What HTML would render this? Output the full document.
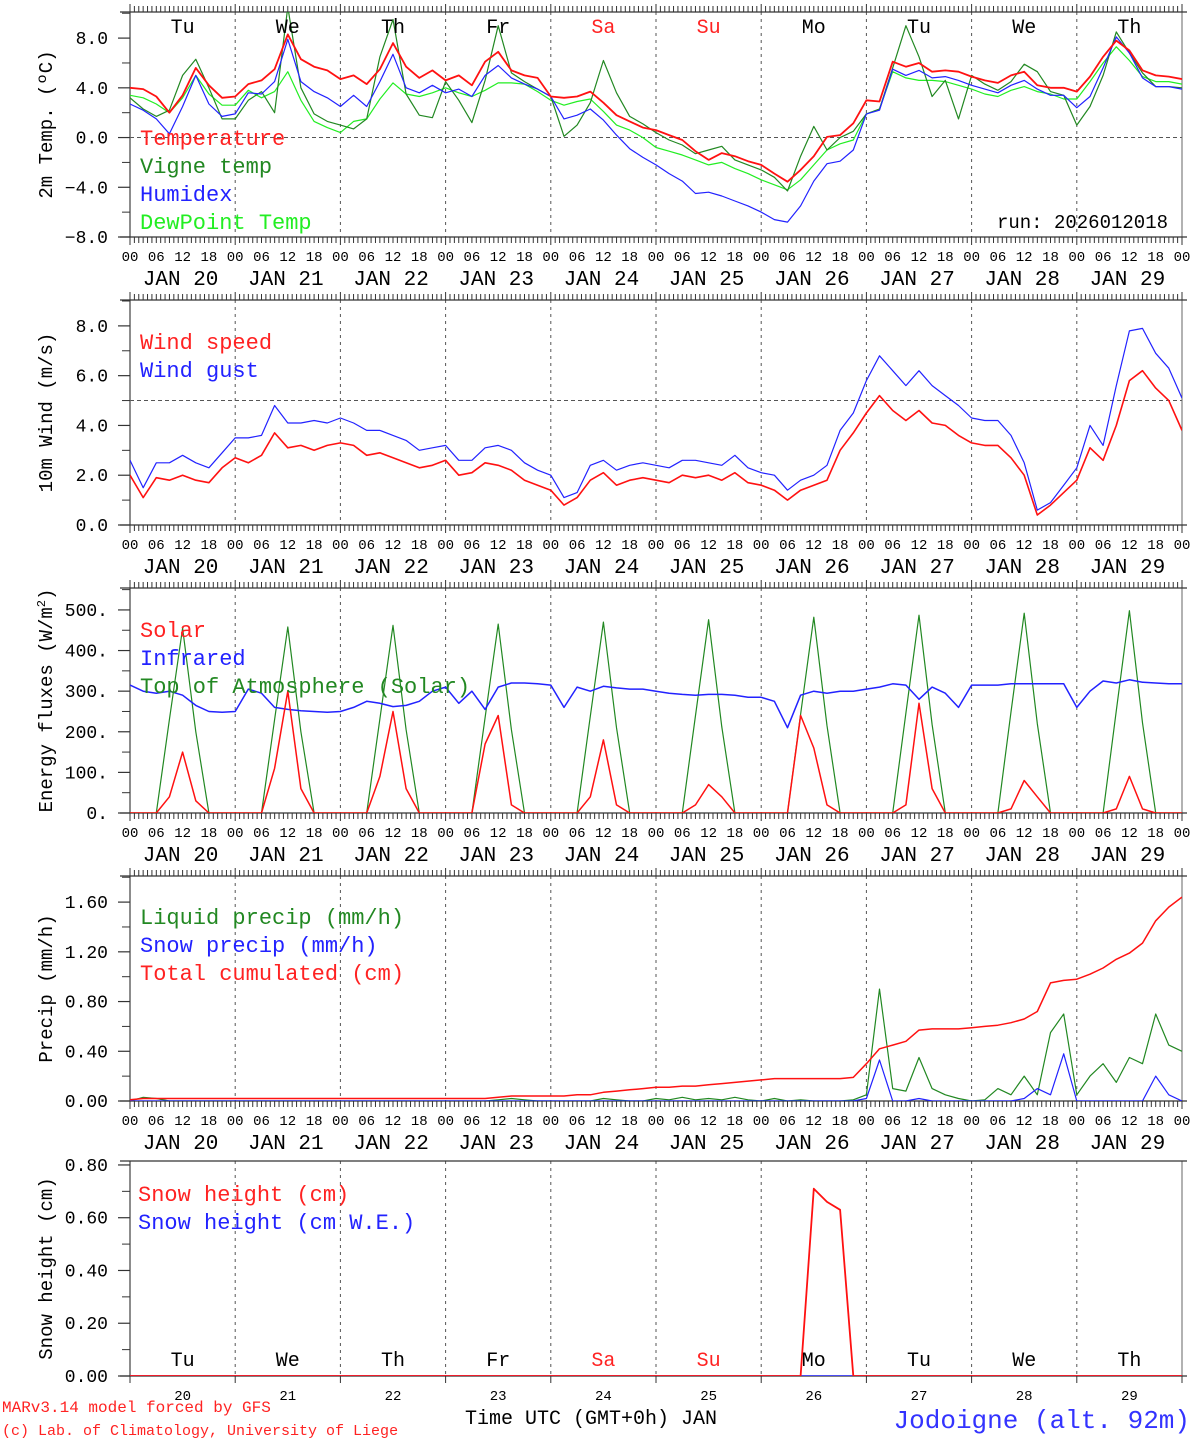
<!DOCTYPE html>
<html><head><meta charset="utf-8">
<style>
body{margin:0;background:#fff;}
svg{display:block;font-family:"Liberation Mono",monospace;}
</style></head>
<body>
<svg id="c" width="1194" height="1440" viewBox="0 0 1194 1440"></svg>
<script>
// ---- data (3-hourly from JAN 20 00 UTC, 81 points) ----
const dayNames = ["Tu","We","Th","Fr","Sa","Su","Mo","Tu","We","Th"];
const dayNums = ["20","21","22","23","24","25","26","27","28","29"];
const tempVals = [4.0,3.9,3.3,2.0,3.4,5.6,4.2,3.2, 3.3,4.3,4.6,5.5,8.3,6.3,5.7,5.4, 4.7,5.0,4.3,5.5,7.6,5.7,4.8,5.4, 4.6,5.0,4.2,6.1,6.9,5.4,5.0,4.8, 3.3,3.2,3.3,3.7,2.8,1.8,1.3,0.8, 0.6,0.2,-0.2,-1.1,-1.8,-1.25,-1.5,-1.9, -2.2,-2.9,-3.55,-2.6,-1.5,0.05,0.2,1.15, 3.0,2.9,6.1,5.7,6.0,5.3,5.4,5.3, 4.9,4.6,4.4,5.0,5.3,4.2,4.0,4.0, 3.7,4.9,6.5,7.8,7.0,5.4,5.0,4.9,4.7];
const vigneVals = [3.2,2.3,1.7,2.2,5.0,6.3,4.0,1.5, 1.5,3.0,3.7,2.0,10.5,4.0,1.9,1.3, 1.0,0.7,1.5,6.5,9.5,3.5,1.8,1.6, 4.5,3.0,1.2,4.6,9.0,5.2,4.5,3.9, 3.3,0.1,1.0,2.8,6.2,3.6,1.7,1.1, 0.4,-0.2,-0.6,-1.3,-1.0,-0.7,-1.8,-2.2, -2.6,-3.2,-4.3,-1.5,0.9,-1.0,0.0,0.5, 1.9,2.3,5.6,9.0,6.5,3.3,4.6,1.5, 5.0,4.3,3.8,4.5,5.9,5.3,3.7,3.4, 1.0,2.5,5.0,8.5,6.8,5.2,4.1,4.1,4.0];
const humidexVals = [2.7,2.2,1.5,0.3,2.5,5.0,2.7,1.7, 1.9,3.6,3.5,4.5,7.9,4.5,3.7,3.2, 2.5,3.4,2.5,4.5,6.7,4.0,3.6,4.2, 3.6,3.9,3.3,5.0,5.8,4.8,4.3,3.9, 3.3,1.5,1.8,2.3,1.4,0.2,-0.9,-1.6, -2.2,-2.9,-3.5,-4.5,-4.4,-4.7,-5.1,-5.5, -6.0,-6.6,-6.8,-5.5,-3.5,-2.1,-1.9,-1.0, 1.9,2.2,5.5,5.0,5.4,4.8,4.9,4.6, 4.2,3.9,3.6,4.2,4.6,3.9,3.4,3.4, 2.4,3.3,5.6,8.1,6.8,4.8,4.1,4.1,3.9];
const dewVals = [3.4,3.2,2.7,2.0,3.2,5.0,3.5,2.6, 2.6,3.8,3.2,3.7,5.3,3.0,1.3,0.8, 0.4,1.3,1.5,3.1,4.4,3.5,3.3,3.6, 4.0,3.6,3.3,3.8,4.4,4.4,4.3,3.7, 3.0,2.6,2.9,3.1,2.1,1.0,0.6,0.0, -0.8,-1.1,-1.4,-1.8,-2.2,-2.0,-2.5,-2.9, -3.4,-3.8,-4.2,-3.4,-2.2,-1.0,-0.5,-0.2, 1.9,2.3,5.3,4.8,4.6,4.6,4.5,4.2, 3.9,3.5,3.3,3.8,4.1,3.7,3.5,3.1, 3.1,4.5,6.0,7.3,6.2,4.9,4.5,4.5,4.3];
const windVals = [2.0,1.1,1.9,1.8,2.0,1.8,1.7,2.3, 2.7,2.5,2.8,3.7,3.1,3.2,3.0,3.2, 3.3,3.2,2.8,2.9,2.7,2.5,2.3,2.4, 2.6,2.0,2.1,2.5,2.4,2.2,1.8,1.6, 1.4,0.8,1.1,1.8,2.1,1.6,1.8,1.9, 1.8,1.7,2.0,1.9,2.0,1.8,2.1,1.7, 1.6,1.4,1.0,1.4,1.6,1.8,3.0,3.7, 4.5,5.2,4.6,4.2,4.6,4.1,4.0,3.6, 3.3,3.2,3.2,2.7,2.0,0.4,0.8,1.3, 1.8,3.1,2.6,4.0,5.8,6.2,5.5,5.0,3.8];
const gustVals = [2.6,1.5,2.5,2.5,2.8,2.5,2.3,2.9, 3.5,3.5,3.6,4.8,4.1,4.1,4.2,4.1, 4.3,4.1,3.8,3.8,3.6,3.4,3.0,3.1, 3.2,2.6,2.6,3.1,3.2,3.0,2.5,2.2, 2.0,1.1,1.3,2.4,2.6,2.2,2.4,2.5, 2.4,2.3,2.6,2.6,2.5,2.4,2.8,2.3, 2.1,2.0,1.4,1.8,2.0,2.4,3.8,4.5, 5.8,6.8,6.2,5.6,6.2,5.6,5.2,4.8, 4.3,4.2,4.2,3.6,2.5,0.6,0.9,1.6, 2.3,4.0,3.2,5.6,7.8,7.9,6.9,6.3,5.1];
const solarVals = [0,0,0,40,150,30,0,0, 0,0,0,110,300,60,0,0, 0,0,0,90,250,60,0,0, 0,0,0,170,240,20,0,0, 0,0,0,40,180,20,0,0, 0,0,0,20,70,40,0,0, 0,0,0,240,160,20,0,0, 0,0,0,20,270,60,0,0, 0,0,0,10,80,40,0,0, 0,0,0,10,90,10,0,0,0];
const irVals = [315,300,295,300,290,265,250,248, 250,305,295,260,255,252,250,248, 250,260,275,270,262,265,275,300, 310,270,300,255,310,320,320,318, 315,260,310,300,312,308,305,305, 300,295,292,290,292,292,290,285, 285,275,210,290,300,295,300,300, 305,310,318,315,280,310,295,260, 315,315,315,318,318,318,318,318, 260,300,325,320,328,322,320,318,318];
const toaVals = [0,0,0,230,455,200,0,0, 0,0,0,230,458,200,0,0, 0,0,0,232,462,205,0,0, 0,0,0,235,465,205,0,0, 0,0,0,238,470,210,0,0, 0,0,0,240,476,212,0,0, 0,0,0,243,482,215,0,0, 0,0,0,246,487,218,0,0, 0,0,0,249,492,220,0,0, 0,0,0,252,498,222,0,0,0];
const liquidVals = [0,0.03,0.02,0,0,0,0,0, 0,0,0,0,0,0,0,0, 0,0,0,0,0,0,0,0, 0,0,0,0,0.01,0.02,0.01,0, 0,0,0,0,0.02,0.01,0,0, 0.02,0.01,0.03,0.01,0.02,0.01,0.03,0.01, 0,0.02,0,0.01,0,0,0,0.01, 0.05,0.9,0.1,0.08,0.35,0.1,0.05,0.02, 0,0.01,0.1,0.05,0.2,0.05,0.55,0.7, 0.05,0.2,0.3,0.15,0.35,0.3,0.7,0.45,0.4];
const snowPrecipVals = [0,0,0,0,0,0,0,0, 0,0,0,0,0,0,0,0, 0,0,0,0,0,0,0,0, 0,0,0,0,0,0,0,0, 0,0,0,0,0,0,0,0, 0,0,0,0,0,0,0,0, 0,0,0,0,0,0,0,0, 0.02,0.33,0,0,0.02,0,0,0, 0,0,0,0,0.02,0.1,0.05,0.38, 0,0,0,0,0,0,0.2,0.05,0];
const totalVals = [0.01,0.02,0.02,0.02,0.02,0.02,0.02,0.02, 0.02,0.02,0.02,0.02,0.02,0.02,0.02,0.02, 0.02,0.02,0.02,0.02,0.02,0.02,0.02,0.02, 0.02,0.02,0.02,0.02,0.03,0.04,0.04,0.04, 0.04,0.04,0.05,0.05,0.07,0.08,0.09,0.10, 0.11,0.11,0.12,0.12,0.13,0.14,0.15,0.16, 0.17,0.18,0.18,0.18,0.18,0.18,0.18,0.19, 0.30,0.42,0.45,0.48,0.57,0.58,0.58,0.58, 0.59,0.60,0.61,0.63,0.66,0.72,0.95,0.97, 0.98,1.02,1.07,1.14,1.19,1.27,1.45,1.56,1.64];
const snowHVals = [0,0,0,0,0,0,0,0, 0,0,0,0,0,0,0,0, 0,0,0,0,0,0,0,0, 0,0,0,0,0,0,0,0, 0,0,0,0,0,0,0,0, 0,0,0,0,0,0,0,0, 0,0,0,0,0.71,0.66,0.63,0, 0,0,0,0,0,0,0,0, 0,0,0,0,0,0,0,0, 0,0,0,0,0,0,0,0,0];
const snowWEVals = [0,0,0,0,0,0,0,0, 0,0,0,0,0,0,0,0, 0,0,0,0,0,0,0,0, 0,0,0,0,0,0,0,0, 0,0,0,0,0,0,0,0, 0,0,0,0,0,0,0,0, 0,0,0,0,0,0,0,0, 0,0,0,0,0,0,0,0, 0,0,0,0,0,0,0,0, 0,0,0,0,0,0,0,0,0];
const tempTicks = [-8,-4,0,4,8];
const windTicks = [0,2,4,6,8];
const energyTicks = [0,100,200,300,400,500];
const precipTicks = [0,0.4,0.8,1.2,1.6];
const snowTicks = [0,0.2,0.4,0.6,0.8];
const hourLabels = ["00","06","12","18"];

const NS="http://www.w3.org/2000/svg";
const svg=document.getElementById('c');
const X0=130,X1=1182,HRS=240;
function xs(h){return X0+h*(X1-X0)/HRS;}
function mk(tag,attrs,parent){const e=document.createElementNS(NS,tag);for(const k in attrs)e.setAttribute(k,attrs[k]);(parent||svg).appendChild(e);return e;}
function txt(s,x,y,size,fill,anchor,parent){const t=mk('text',{x:x,y:y,'font-size':size,fill:fill||'#000','text-anchor':anchor||'start'},parent);t.textContent=s;return t;}

function panel(id,top,bot,ymin,ymax,ticks,fmt,title,opts){
  const g=mk('g',{});
  
  
  const ys=v=>bot-(v-ymin)*(bot-top)/(ymax-ymin);
  const cp=mk('clipPath',{id:'cp'+id},g);
  mk('rect',{x:X0,y:top,width:X1-X0,height:bot-top},cp);
  for(let d=1;d<10;d++){const l=mk('line',{x1:xs(d*24),x2:xs(d*24),y1:top,y2:bot,stroke:'#555','stroke-width':1,'stroke-dasharray':'3,4'},g);
    
    }
  if(opts.ref!==undefined){const l=mk('line',{x1:X0,x2:X1,y1:ys(opts.ref),y2:ys(opts.ref),stroke:'#555','stroke-width':1,'stroke-dasharray':'4,3'},g);
    
    }
  mk('line',{x1:X0,x2:X0,y1:top,y2:bot,stroke:'#666','stroke-width':1.5},g);
  mk('line',{x1:X1,x2:X1,y1:top,y2:bot,stroke:'#666','stroke-width':1},g);
  mk('line',{x1:X0-10,x2:X1+5,y1:top,y2:top,stroke:'#333','stroke-width':1.3},g);
  mk('line',{x1:X0-10,x2:X1+5,y1:bot,y2:bot,stroke:'#333','stroke-width':1.3},g);
  if(opts.hourTicks){
    for(let h=0;h<=HRS;h++){const big=h%24===0;
      mk('line',{x1:xs(h),x2:xs(h),y1:top,y2:top-(big?8:6),stroke:'#333','stroke-width':1},g);
      mk('line',{x1:xs(h),x2:xs(h),y1:bot,y2:bot+(big?8:6),stroke:'#333','stroke-width':1},g);}
  } else {
    for(let d=0;d<=10;d++) mk('line',{x1:xs(d*24),x2:xs(d*24),y1:bot,y2:bot+7,stroke:'#333','stroke-width':1},g);
  }
  const step=ticks[1]-ticks[0];
  ticks.forEach((v,i)=>{const y=ys(v);
    mk('line',{x1:X0-12,x2:X0,y1:y,y2:y,stroke:'#333','stroke-width':1.2},g);
    const t=txt(fmt(v),X0-22,y+6,18,'#000','end',g);
    
    
    const mv=v+step/2; if(mv<ymax){const my=ys(mv);mk('line',{x1:X0-8,x2:X0,y1:my,y2:my,stroke:'#333','stroke-width':1},g);}
  });
  const ty=(top+bot)/2;
  const tt=mk('text',{x:52,y:ty,'font-size':19,'text-anchor':'middle',transform:'rotate(-90 52 '+ty+')'},g);
  tt.innerHTML=title;
  
  
  const sg=mk('g',{'clip-path':'url(#cp'+id+')'},g);
  return {g,sg,ys};
}
function series(p,vals,color,w,name){
  const pts=vals.map((v,i)=>xs(i*3).toFixed(1)+','+p.ys(v).toFixed(1)).join(' ');
  const pl=mk('polyline',{points:pts,fill:'none',stroke:color,'stroke-width':w,'stroke-linejoin':'round'},p.sg);
  
  
}
function legend(items,x,y0,dy,g){items.forEach((it,i)=>{const t=txt(it[0],x,y0+i*dy,22,it[1],'start',g);
  
  });}
function dateAxis(bot){
  for(let d=0;d<=10;d++){for(let k=0;k<4;k++){if(d===10&&k>0)break;
    const t=txt(hourLabels[k],xs(d*24+k*6),bot+24,14,'#000','middle');
    
    }}
  for(let d=0;d<10;d++){const t=txt('JAN '+dayNums[d],xs(d*24+12)-2,bot+48,21,'#000','middle');
    
    }
}
const f1=v=>(v<0?'\u2212':'')+Math.abs(v).toFixed(1);
const f2=v=>v.toFixed(2);
const p1=panel('temp',12,237,-8,10.1,tempTicks,f1,'2m Temp. (ºC)',{ref:0,hourTicks:true});
series(p1,dewVals,'#22ee22',1.2,'dewpoint-line');
series(p1,vigneVals,'#228822',1.2,'vigne-temp-line');
series(p1,humidexVals,'#2222ff',1.2,'humidex-line');
series(p1,tempVals,'#ff1111',1.8,'temperature-line');
dayNames.forEach((n,d)=>{const t=txt(n,xs(d*24+12),33,20,(d===4||d===5)?'#ff2222':'#000','middle',p1.g);
  
  });
legend([['Temperature','#ff2222'],['Vigne temp','#228822'],['Humidex','#2222ff'],['DewPoint Temp','#22ee22']],140,145,28,p1.g);
const rt=txt('run: 2026012018',1168,228,19,'#000','end',p1.g);


dateAxis(237);
const p2=panel('wind',300,525,0,9.04,windTicks,v=>v.toFixed(1),'10m Wind (m/s)',{ref:5,hourTicks:true});
series(p2,gustVals,'#2222ff',1.2,'wind-gust-line');
series(p2,windVals,'#ff1111',1.6,'wind-speed-line');
legend([['Wind speed','#ff2222'],['Wind gust','#2222ff']],140,349,28,p2.g);
dateAxis(525);
const p3=panel('energy',588,813,0,554,energyTicks,v=>v+'.','Energy fluxes (W/m<tspan dy="-7" font-size="12">2</tspan><tspan dy="7">)</tspan>',{hourTicks:true});
series(p3,toaVals,'#228822',1.2,'toa-solar-line');
series(p3,irVals,'#2222ff',1.5,'infrared-line');
series(p3,solarVals,'#ff1111',1.5,'solar-line');
legend([['Solar','#ff2222'],['Infrared','#2222ff'],['Top of Atmosphere (Solar)','#228822']],140,637,28,p3.g);
dateAxis(813);
const p4=panel('precip',876,1101,0,1.81,precipTicks,f2,'Precip (mm/h)',{hourTicks:true});
series(p4,liquidVals,'#228822',1.2,'liquid-precip-line');
series(p4,snowPrecipVals,'#2222ff',1.2,'snow-precip-line');
series(p4,totalVals,'#ff1111',1.5,'total-cumulated-line');
legend([['Liquid precip (mm/h)','#228822'],['Snow precip (mm/h)','#2222ff'],['Total cumulated (cm)','#ff2222']],140,924,28,p4.g);
dateAxis(1101);
const p5=panel('snow',1161,1376,0,0.815,snowTicks,f2,'Snow height (cm)',{hourTicks:false});
series(p5,snowWEVals,'#2222ff',1.5,'snow-we-line');
series(p5,snowHVals,'#ff1111',1.8,'snow-height-line');
legend([['Snow height (cm)','#ff2222'],['Snow height (cm W.E.)','#2222ff']],138,1201,28,p5.g);
dayNames.forEach((n,d)=>{const t=txt(n,xs(d*24+12),1366,20,(d===4||d===5)?'#ff2222':'#000','middle');
  
  
  const t2=txt(dayNums[d],xs(d*24+12),1400,14,'#000','middle');
  
  });
const xt=txt('Time UTC (GMT+0h) JAN',591,1424,20,'#000','middle');


const c1=txt('MARv3.14 model forced by GFS',2,1412,16,'#ff2222','start');


const c2=txt('(c) Lab. of Climatology, University of Liege',2,1435,15,'#ff2222','start');


const loc=txt('Jodoigne (alt. 92m)',1190,1428,26,'#3333ff','end');


</script>
</body></html>
